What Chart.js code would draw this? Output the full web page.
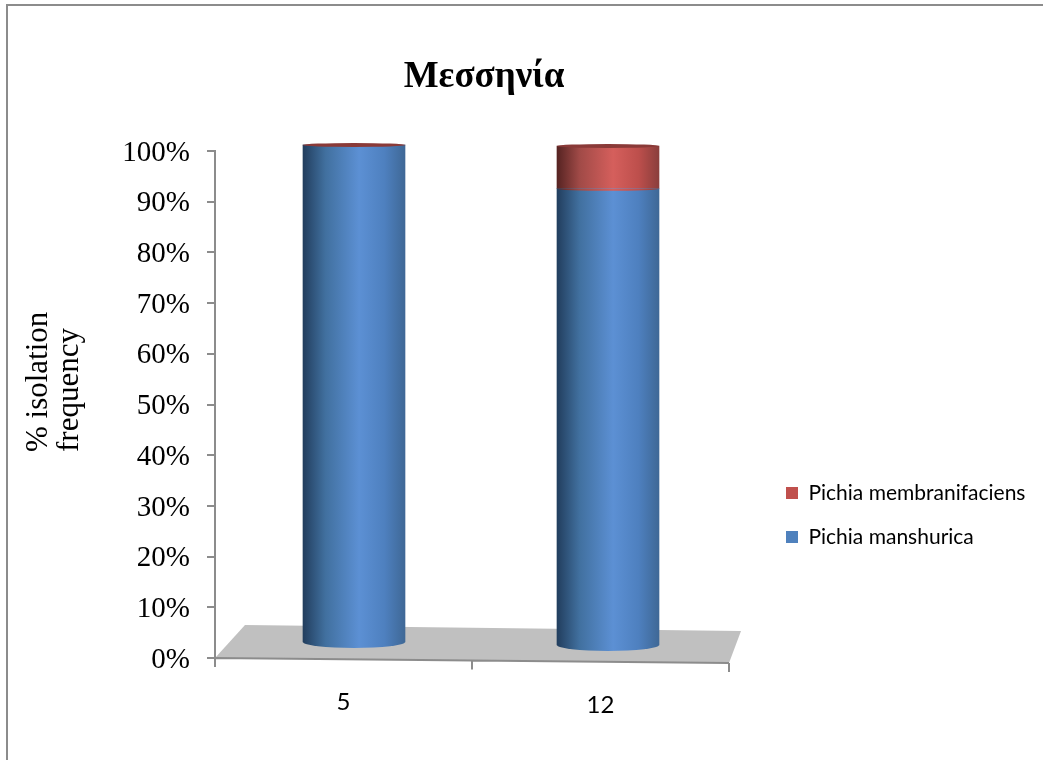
<!DOCTYPE html>
<html>
<head>
<meta charset="utf-8">
<title>Μεσσηνία</title>
<script src="https://cdn.jsdelivr.net/npm/chart.js@4"></script>
<style>
  html, body { margin: 0; padding: 0; background: #fff; overflow: hidden; }
  .frame { position: absolute; left: 6px; top: 4px; width: 1100px; height: 900px; border: 2px solid #8c8c8c; }
  canvas { position: absolute; left: 0; top: 0; }
</style>
</head>
<body>
<div class="frame"></div>
<canvas id="myChart" width="1043" height="760"></canvas>
<script>
const chartTitle = "Μεσσηνία";
const yTitleLines = ["% isolation", "frequency"];
const categories = ["5", "12"];
const manshurica = [100, 91.5];
const membranifaciens = [0, 8.5];
const yTicks = [0, 10, 20, 30, 40, 50, 60, 70, 80, 90, 100];

const swatches = ["#4f81bd", "#c0504d"];
const blueStops = ["#223e5e", "#41709f", "#5c90d4", "#4e80bf", "#3f6896"];
const redStops = ["#562322", "#a04a47", "#d55f5c", "#bd4f4c", "#8a3e3c"];

// how far each cylinder sits from its axis slot, the 3D depth of the plot
const depthX = [10.5, 7.5];
const depthTop = [-6, -5];
const depthBase = [-15, -12];

const barWidth = 102;

function sideGradient(ctx, cx, stops) {
  const g = ctx.createLinearGradient(cx - barWidth / 2, 0, cx + barWidth / 2, 0);
  g.addColorStop(0, stops[0]);
  g.addColorStop(0.22, stops[1]);
  g.addColorStop(0.55, stops[2]);
  g.addColorStop(0.8, stops[3]);
  g.addColorStop(1, stops[4]);
  return g;
}

function barFill(solid, stops) {
  return (c) => {
    const cx = c.chart.scales.x.getPixelForValue(c.dataIndex) + depthX[c.dataIndex];
    // the legend asks for a colour before the scales have a size
    if (!isFinite(cx)) return solid;
    return sideGradient(c.chart.ctx, cx, stops);
  };
}

// cap height grows towards the floor
function capRadius(y) {
  return 2 + (4 * (y - 145)) / 500;
}

function halfCap(ctx, el, y, fill) {
  ctx.fillStyle = fill;
  ctx.beginPath();
  ctx.ellipse(el.x, y, barWidth / 2, capRadius(y), 0, 0, Math.PI);
  ctx.fill();
}

const cylinderPlugin = {
  id: "cylinders",
  afterDatasetsUpdate(chart) {
    const { top, height } = chart.chartArea;
    chart.data.datasets.forEach((ds, d) => {
      chart.getDatasetMeta(d).data.forEach((el, i) => {
        const shift = (y) => y + depthTop[i] + ((y - top) / height) * (depthBase[i] - depthTop[i]);
        el.x += depthX[i];
        el.y = shift(el.y);
        el.base = shift(el.base);
      });
    });
  },
  afterLayout(chart) {
    // title is centred over the whole plot including the floor depth
    chart.titleBlock.left += 12;
    chart.titleBlock.right += 12;

    const legend = chart.legend;
    legend.left = 763;
    legend.top = 459.5;
    legend.right = 1043;
    legend.bottom = 760;

    // tick labels follow the slope of the floor
    chart.scales.x.getLabelItems().forEach((item, i) => {
      item.options.translation[1] += i * 3;
    });
    chart.scales.y.getLabelItems().forEach((item) => {
      item.options.translation[1] += 2;
    });
  },
  beforeDatasetsDraw(chart) {
    const { ctx, chartArea } = chart;
    const { left, right, bottom } = chartArea;
    const x = chart.scales.x;
    const slope = 5 / (right - left);

    ctx.save();
    ctx.fillStyle = "#c0c0c0";
    ctx.beginPath();
    ctx.moveTo(left, bottom);
    ctx.lineTo(left + 30, bottom - 33);
    ctx.lineTo(right + 12, bottom - 27);
    ctx.lineTo(right, bottom + 5);
    ctx.closePath();
    ctx.fill();

    ctx.strokeStyle = "#8c8c8c";
    ctx.lineWidth = 2;
    ctx.beginPath();
    ctx.moveTo(left, bottom);
    ctx.lineTo(right, bottom + 5);
    for (let i = 0; i <= categories.length; i++) {
      const px = x.getPixelForValue(i - 0.5);
      const py = bottom + (px - left) * slope;
      ctx.moveTo(px, py);
      ctx.lineTo(px, py + 9);
    }
    ctx.stroke();
    ctx.restore();
  },
  afterDatasetsDraw(chart) {
    const { ctx } = chart;
    const blue = chart.getDatasetMeta(0).data;
    const red = chart.getDatasetMeta(1).data;
    ctx.save();
    blue.forEach((el, i) => {
      halfCap(ctx, el, el.base, sideGradient(ctx, el.x, blueStops));
      const r = red[i];
      if (r.base > r.y) halfCap(ctx, r, r.base, sideGradient(ctx, r.x, redStops));
      ctx.fillStyle = "#8a3a38";
      ctx.beginPath();
      ctx.ellipse(r.x, r.y, barWidth / 2, capRadius(r.y), 0, 0, Math.PI * 2);
      ctx.fill();
    });
    ctx.restore();
  },
  afterDraw(chart) {
    const { ctx } = chart;
    ctx.save();
    ctx.fillStyle = "#000";
    ctx.font = '31px "Liberation Serif"';
    ctx.textAlign = "left";
    ctx.textBaseline = "alphabetic";
    yTitleLines.forEach((line, i) => {
      ctx.save();
      ctx.translate(47 + i * 31, 452);
      ctx.rotate(-Math.PI / 2);
      ctx.fillText(line, 0, 0);
      ctx.restore();
    });
    ctx.restore();
  },
};

const chartInstance = new Chart(document.getElementById("myChart"), {
  type: "bar",
  data: {
    labels: categories,
    datasets: [
      {
        label: "Pichia manshurica",
        data: manshurica,
        backgroundColor: barFill(swatches[0], blueStops),
        barThickness: barWidth,
        clip: false,
      },
      {
        label: "Pichia membranifaciens",
        data: membranifaciens,
        backgroundColor: barFill(swatches[1], redStops),
        barThickness: barWidth,
        clip: false,
      },
    ],
  },
  options: {
    responsive: false,
    animation: false,
    events: [],
    layout: { padding: { left: 0, top: 0, right: 314, bottom: 0 } },
    scales: {
      x: {
        stacked: true,
        afterFit(scale) {
          scale.height = 102;
        },
        border: { display: false },
        grid: { display: false },
        ticks: {
          color: "#000",
          padding: 22,
          maxRotation: 0,
          font: { family: "Lato", size: 24 },
        },
      },
      y: {
        stacked: true,
        min: 0,
        max: 100,
        afterFit(scale) {
          scale.width = 215;
        },
        afterBuildTicks(scale) {
          scale.ticks = yTicks.map((value) => ({ value }));
        },
        border: { color: "#8c8c8c", width: 2 },
        grid: { drawOnChartArea: false, color: "#8c8c8c", lineWidth: 2, tickLength: 8 },
        ticks: {
          color: "#000",
          padding: 17,
          font: { family: "Liberation Serif", size: 29 },
          callback: (v) => `${v}%`,
        },
      },
    },
    plugins: {
      title: {
        display: true,
        text: chartTitle,
        color: "#000",
        fullSize: false,
        font: { family: "Liberation Serif", size: 37, weight: "bold" },
        padding: { top: 55, bottom: 51.6 },
      },
      legend: {
        position: "chartArea",
        align: "start",
        reverse: true,
        labels: {
          boxWidth: 12,
          boxHeight: 12,
          padding: 23,
          color: "#000",
          font: { family: "Lato", size: 21 },
          generateLabels(chart) {
            const items = Chart.defaults.plugins.legend.labels.generateLabels(chart);
            items.forEach((item) => {
              item.fillStyle = swatches[item.datasetIndex];
            });
            return items;
          },
        },
      },
      tooltip: { enabled: false },
    },
  },
  plugins: [cylinderPlugin],
});
</script>
</body>
</html>
